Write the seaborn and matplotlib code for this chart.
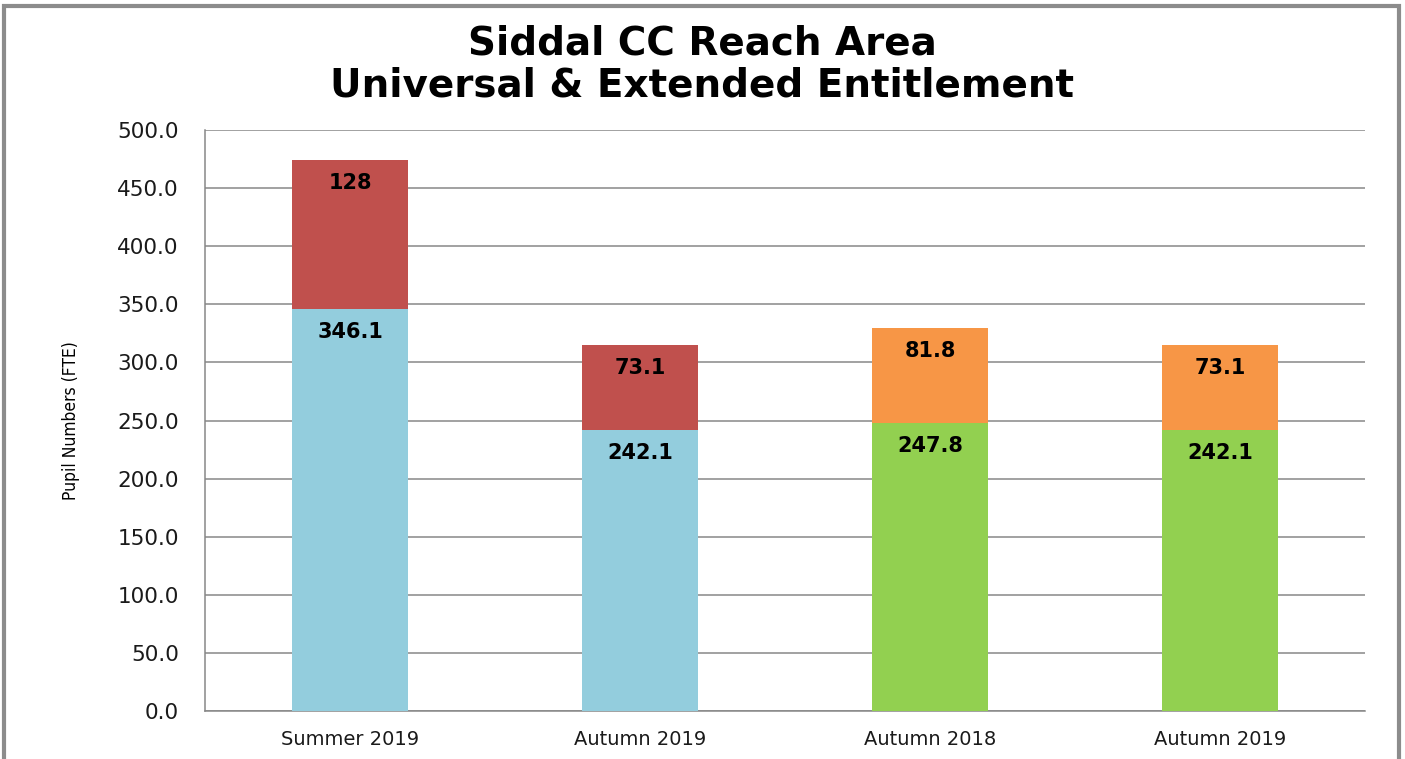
import pandas as pd
import matplotlib.pyplot as plt
import seaborn as sns
from matplotlib.patches import Rectangle

# Data
periods = ["Summer 2019", "Autumn 2019", "Autumn 2018", "Autumn 2019"]
universal = [346.1, 242.1, 247.8, 242.1]
extended = [128, 73.1, 81.8, 73.1]
base_colors = ["#93CDDD", "#93CDDD", "#92D050", "#92D050"]
top_colors = ["#C0504D", "#C0504D", "#F79646", "#F79646"]
yticks = [0, 50, 100, 150, 200, 250, 300, 350, 400, 450, 500]

df = pd.DataFrame({
    "slot": [str(i) for i in range(len(periods))],
    "period": periods,
    "universal": universal,
    "extended": extended,
})
df["total"] = df["universal"] + df["extended"]

sns.set_style("white")
plt.rcParams["font.family"] = ["DejaVu Sans"]
plt.rcParams["text.color"] = "black"

fig = plt.figure(figsize=(14.05, 7.59), dpi=100)
ax = fig.add_axes([0.146, 0.0632, 0.8255, 0.7655])

grid_col = "#878787"

# totals first (top colour), then the base segment drawn over them
sns.barplot(data=df, x="slot", y="total", hue="slot", palette=top_colors,
            legend=False, width=0.4, saturation=1, linewidth=0, ax=ax, zorder=3)
sns.barplot(data=df, x="slot", y="universal", hue="slot", palette=base_colors,
            legend=False, width=0.4, saturation=1, linewidth=0, ax=ax, zorder=4)

for i, row in df.iterrows():
    ax.text(i, row["universal"] - 20, f"{row['universal']:g}", ha="center", va="center",
            fontsize=15, fontweight="bold", color="black", zorder=5)
    ax.text(i, row["total"] - 20, f"{row['extended']:g}", ha="center", va="center",
            fontsize=15, fontweight="bold", color="black", zorder=5)

ax.set_ylim(0, 500)
ax.set_xlim(-0.5, len(periods) - 0.5)
ax.set_yticks(yticks)
ax.set_yticklabels([f"{v:.1f}" for v in yticks], fontsize=15.5, color="#1a1a1a")
ax.yaxis.grid(True, color=grid_col, linewidth=1.1, zorder=0)
ax.set_axisbelow(True)

ax.set_xticks(range(len(periods)))
ax.set_xticklabels(periods, fontsize=14, color="#1a1a1a")
ax.set_xticks([i - 0.5 for i in range(len(periods) + 1)], minor=True)
ax.tick_params(axis="x", which="major", length=0, pad=14)
ax.tick_params(axis="x", which="minor", length=7, color=grid_col, width=1.1)
ax.tick_params(axis="y", length=7, color=grid_col, width=1.1, pad=12)

for s in ["top", "right"]:
    ax.spines[s].set_visible(False)
for s in ["left", "bottom"]:
    ax.spines[s].set_color(grid_col)
    ax.spines[s].set_linewidth(1.1)

ax.set_xlabel("")
ax.set_ylabel("Pupil Numbers (FTE)", fontsize=12.5, fontstretch="condensed",
              color="black", family=["DejaVu Sans"])
ax.yaxis.set_label_coords(-0.108, 0.5)

fig.text(0.5, 0.943, "Siddal CC Reach Area", ha="center", va="center",
         fontsize=28, fontweight="bold", color="black")
fig.text(0.5, 0.887, "Universal & Extended Entitlement", ha="center", va="center",
         fontsize=28, fontweight="bold", color="black")

fig.patches.append(Rectangle((0.003, -0.05), 0.993, 1.042, transform=fig.transFigure,
                             fill=False, edgecolor="#8C8C8C", linewidth=3))

fig.savefig("out.png", dpi=100)
